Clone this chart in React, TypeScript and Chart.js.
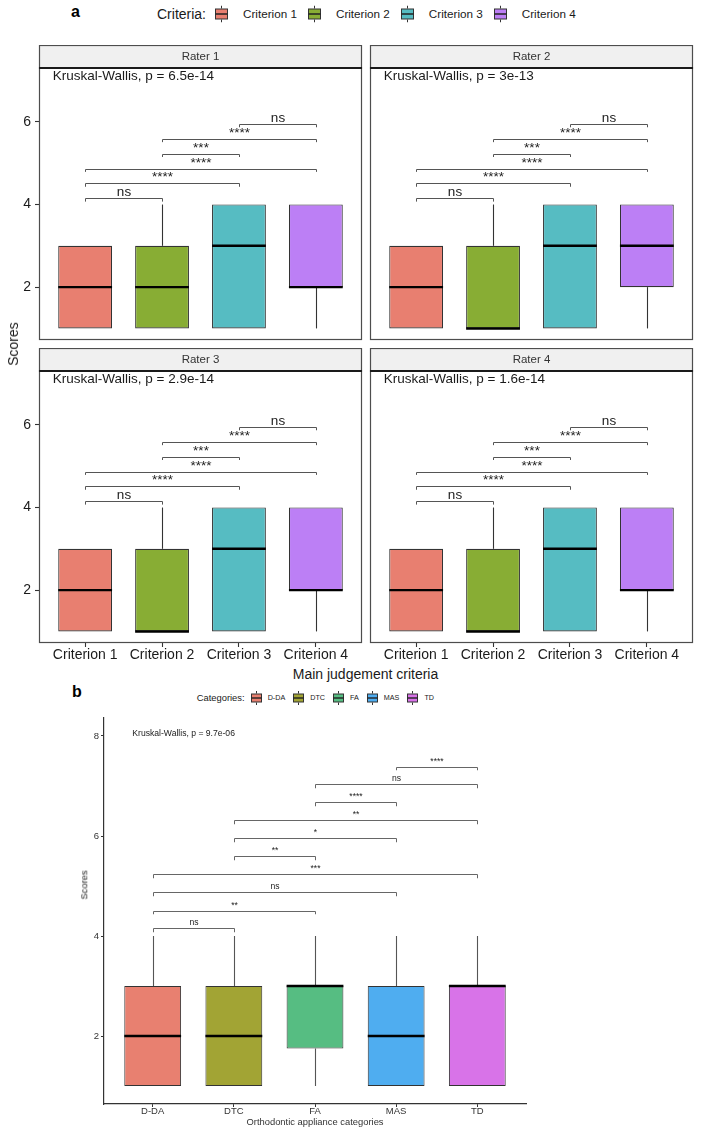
import React, { useEffect, useRef } from 'react';
import { Chart, registerables } from 'chart.js';

Chart.register(...registerables);

const FONT = "'Liberation Sans', Arial, Helvetica, sans-serif";
Chart.defaults.font.family = FONT;

// ---------- Panel a: four raters x four judgement criteria ----------
const criteria = ['Criterion 1', 'Criterion 2', 'Criterion 3', 'Criterion 4'];
const criteriaColors = ['#E87F70', '#88AD34', '#56BCC2', '#BC7FF5'];
const raters = ['Rater 1', 'Rater 2', 'Rater 3', 'Rater 4'];
const raterPValues = ['6.5e-14', '3e-13', '2.9e-14', '1.6e-14'];

// five-number summaries: one row per rater, one column per criterion
const raterLower = [[1, 1, 1, 1], [1, 1, 1, 1], [1, 1, 1, 1], [1, 1, 1, 1]];
const raterQ1 = [[1, 1, 1, 2], [1, 1, 1, 2], [1, 1, 1, 2], [1, 1, 1, 2]];
const raterMedian = [[2, 2, 3, 2], [2, 1, 3, 3], [2, 1, 3, 2], [2, 1, 3, 2]];
const raterQ3 = [[3, 3, 4, 4], [3, 3, 4, 4], [3, 3, 4, 4], [3, 3, 4, 4]];
const raterUpper = [[3, 4, 4, 4], [3, 4, 4, 4], [3, 4, 4, 4], [3, 4, 4, 4]];

// pairwise comparisons between criteria (same for every rater)
const criteriaPairFrom = [1, 1, 1, 2, 2, 3];
const criteriaPairTo = [2, 3, 4, 3, 4, 4];
const criteriaPairY = [4.15, 4.51, 4.87, 5.23, 5.59, 5.95];
const criteriaPairLabel = ['ns', '****', '****', '***', '****', 'ns'];
const scoreTicksA = [2, 4, 6];

// ---------- Panel b: orthodontic appliance categories ----------
const categories = ['D-DA', 'DTC', 'FA', 'MAS', 'TD'];
const categoryColors = ['#E88070', '#A2A434', '#56BD82', '#4FADF0', '#D873E8'];
const categoryLower = [1, 1, 1, 1, 1];
const categoryQ1 = [1, 1, 1.75, 1, 1];
const categoryMedian = [2, 2, 3, 2, 3];
const categoryQ3 = [3, 3, 3, 3, 3];
const categoryUpper = [4, 4, 4, 4, 4];
const categoryPairFrom = [1, 1, 1, 1, 2, 2, 2, 3, 3, 4];
const categoryPairTo = [2, 3, 4, 5, 3, 4, 5, 4, 5, 5];
const categoryPairY = [4.15, 4.51, 4.87, 5.23, 5.59, 5.95, 6.31, 6.67, 7.03, 7.39];
const categoryPairLabel = ['ns', '**', 'ns', '***', '**', '*', '**', '****', 'ns', '****'];
const categoryPValue = '9.7e-06';
const scoreTicksB = [2, 4, 6, 8];

type Extras = {
  lower: number[];
  q1: number[];
  median: number[];
  q3: number[];
  upper: number[];
  pairFrom: number[];
  pairTo: number[];
  pairY: number[];
  pairLabel: string[];
  tip: number;
  bracketColor: string;
  labelFont: string;
  labelGap: number;
  whiskerColor: string;
  note: string;
  noteX: number;
  noteY: number;
  noteFont: string;
  facet: boolean;
};

// Whiskers, medians, significance brackets, test note and facet frame
function boxExtras(e: Extras) {
  return {
    id: 'boxExtras',
    beforeDraw(chart: any) {
      if (!e.facet) return;
      const { ctx, chartArea: a } = chart;
      ctx.save();
      ctx.fillStyle = '#F0F0F0';
      ctx.fillRect(a.left, 0, a.right - a.left, a.top);
      ctx.restore();
    },
    afterDatasetsDraw(chart: any) {
      const { ctx } = chart;
      const x = chart.scales.x;
      const y = chart.scales.y;
      const bars = chart.getDatasetMeta(0).data;
      ctx.save();
      bars.forEach((bar: any, i: number) => {
        const cx = Math.round(bar.x) + 0.5;
        const half = bar.width / 2;
        ctx.strokeStyle = e.whiskerColor;
        ctx.lineWidth = 1.1;
        ctx.beginPath();
        ctx.moveTo(cx, y.getPixelForValue(e.q3[i]));
        ctx.lineTo(cx, y.getPixelForValue(e.upper[i]));
        ctx.moveTo(cx, y.getPixelForValue(e.q1[i]));
        ctx.lineTo(cx, y.getPixelForValue(e.lower[i]));
        ctx.stroke();
        ctx.strokeStyle = '#000';
        ctx.lineWidth = 2.4;
        const my = y.getPixelForValue(e.median[i]);
        ctx.beginPath();
        ctx.moveTo(bar.x - half, my);
        ctx.lineTo(bar.x + half, my);
        ctx.stroke();
      });

      ctx.strokeStyle = e.bracketColor;
      ctx.lineWidth = 1;
      ctx.fillStyle = '#222';
      ctx.font = e.labelFont;
      ctx.textAlign = 'center';
      ctx.textBaseline = 'alphabetic';
      e.pairY.forEach((v, k) => {
        const x1 = Math.round(x.getPixelForValue(e.pairFrom[k])) + 0.5;
        const x2 = Math.round(x.getPixelForValue(e.pairTo[k])) + 0.5;
        const yb = Math.round(y.getPixelForValue(v)) + 0.5;
        const yt = y.getPixelForValue(v - e.tip);
        ctx.beginPath();
        ctx.moveTo(x1, yt);
        ctx.lineTo(x1, yb);
        ctx.lineTo(x2, yb);
        ctx.lineTo(x2, yt);
        ctx.stroke();
        ctx.fillText(e.pairLabel[k], (x1 + x2) / 2, yb - e.labelGap);
      });

      ctx.font = e.noteFont;
      ctx.textAlign = 'left';
      ctx.textBaseline = 'middle';
      ctx.fillStyle = '#1a1a1a';
      ctx.fillText(e.note, x.getPixelForValue(e.noteX), y.getPixelForValue(e.noteY));
      ctx.restore();
    },
    afterDraw(chart: any) {
      if (!e.facet) return;
      const { ctx, chartArea: a } = chart;
      ctx.save();
      ctx.strokeStyle = '#4D4D4D';
      ctx.lineWidth = 1.2;
      ctx.strokeRect(a.left + 0.5, 0.5, a.right - a.left - 1, a.top - 0.5);
      ctx.strokeRect(a.left + 0.5, a.top, a.right - a.left - 1, a.bottom - a.top - 0.5);
      ctx.strokeStyle = '#1a1a1a';
      ctx.lineWidth = 2;
      ctx.beginPath();
      ctx.moveTo(a.left, a.top);
      ctx.lineTo(a.right, a.top);
      ctx.stroke();
      ctx.restore();
    },
  };
}

// keep tick-label overhang from shrinking the plotting area
const noOverhang = (s: any) => {
  s.paddingTop = 0;
  s.paddingBottom = 0;
  s.paddingLeft = 0;
  s.paddingRight = 0;
};

function facetConfig(r: number, isLeft: boolean, isBottom: boolean) {
  return {
    type: 'bar',
    data: {
      datasets: [
        {
          data: criteria.map((_, i) => ({ x: i + 1, y: [raterQ1[r][i], raterQ3[r][i]] })),
          backgroundColor: criteriaColors,
          borderColor: '#333333',
          borderWidth: 1.1,
          borderSkipped: false,
          barPercentage: 0.7,
          categoryPercentage: 1,
        },
      ],
    },
    options: {
      animation: false,
      responsive: false,
      events: [],
      layout: {
        autoPadding: false,
        padding: { left: isLeft ? 0 : 1, right: 1, top: 0, bottom: isBottom ? 0 : 1 },
      },
      plugins: {
        legend: { display: false },
        tooltip: { enabled: false },
        title: {
          display: true,
          text: raters[r],
          fullSize: false,
          color: '#333',
          font: { family: FONT, size: 11.5, weight: 'normal', lineHeight: 1.2 },
          padding: { top: 5, bottom: 4.2 },
        },
      },
      scales: {
        x: {
          type: 'linear',
          min: 0.4,
          max: 4.6,
          offset: false,
          display: isBottom,
          afterBuildTicks: (s: any) => {
            s.ticks = criteria.map((_, i) => ({ value: i + 1 }));
          },
          afterFit: (s: any) => {
            noOverhang(s);
            if (isBottom) s.height = 22;
          },
          ticks: {
            callback: (v: any) => criteria[Number(v) - 1],
            font: { family: FONT, size: 14 },
            color: '#1a1a1a',
            padding: 0,
            autoSkip: false,
            maxRotation: 0,
          },
          grid: {
            display: true,
            offset: false,
            drawOnChartArea: false,
            drawTicks: true,
            tickLength: 4,
            tickColor: '#333',
            tickWidth: 1.1,
          },
          border: { display: false },
        },
        y: {
          type: 'linear',
          min: 0.72,
          max: 7.305,
          display: isLeft,
          afterBuildTicks: (s: any) => {
            s.ticks = scoreTicksA.map((v) => ({ value: v }));
          },
          afterFit: (s: any) => {
            noOverhang(s);
            if (isLeft) s.width = 39;
          },
          ticks: { font: { family: FONT, size: 14 }, color: '#1a1a1a', padding: 4 },
          grid: {
            display: true,
            drawOnChartArea: false,
            drawTicks: true,
            tickLength: 4,
            tickColor: '#333',
            tickWidth: 1.1,
          },
          border: { display: false },
        },
      },
    },
    plugins: [
      boxExtras({
        lower: raterLower[r],
        q1: raterQ1[r],
        median: raterMedian[r],
        q3: raterQ3[r],
        upper: raterUpper[r],
        pairFrom: criteriaPairFrom,
        pairTo: criteriaPairTo,
        pairY: criteriaPairY,
        pairLabel: criteriaPairLabel,
        tip: 0.08,
        bracketColor: '#555',
        labelFont: `13.5px ${FONT}`,
        labelGap: 3,
        whiskerColor: '#333',
        note: `Kruskal-Wallis, p = ${raterPValues[r]}`,
        noteX: 0.58,
        noteY: 7.11,
        noteFont: `13.5px ${FONT}`,
        facet: true,
      }),
    ],
  };
}

function categoryConfig() {
  return {
    type: 'bar',
    data: {
      datasets: [
        {
          data: categories.map((_, i) => ({ x: i + 1, y: [categoryQ1[i], categoryQ3[i]] })),
          backgroundColor: categoryColors,
          borderColor: '#333333',
          borderWidth: 1,
          borderSkipped: false,
          barPercentage: 0.7,
          categoryPercentage: 1,
        },
      ],
    },
    options: {
      animation: false,
      responsive: false,
      events: [],
      layout: { autoPadding: false, padding: { left: 0, top: 13, right: 176, bottom: 0 } },
      plugins: { legend: { display: false }, tooltip: { enabled: false } },
      scales: {
        x: {
          type: 'linear',
          min: 0.4,
          max: 5.6,
          offset: false,
          afterBuildTicks: (s: any) => {
            s.ticks = categories.map((_, i) => ({ value: i + 1 }));
          },
          afterFit: (s: any) => {
            noOverhang(s);
            s.height = 31;
          },
          ticks: {
            callback: (v: any) => categories[Number(v) - 1],
            font: { family: FONT, size: 9.5, lineHeight: 1 },
            color: '#333',
            padding: 0,
            autoSkip: false,
            maxRotation: 0,
          },
          grid: {
            display: true,
            offset: false,
            drawOnChartArea: false,
            drawTicks: true,
            tickLength: 3,
            tickColor: '#333',
          },
          border: { display: true, color: '#333', width: 1.2 },
          title: {
            display: true,
            text: 'Orthodontic appliance categories',
            color: '#333',
            font: { family: FONT, size: 9.4, lineHeight: 1.2 },
            padding: { top: 0, bottom: 6.7 },
          },
        },
        y: {
          type: 'linear',
          min: 0.64,
          max: 8.36,
          afterBuildTicks: (s: any) => {
            s.ticks = scoreTicksB.map((v) => ({ value: v }));
          },
          afterFit: (s: any) => {
            noOverhang(s);
            s.width = 104;
          },
          ticks: { font: { family: FONT, size: 9.5 }, color: '#333', padding: 2 },
          grid: {
            display: true,
            drawOnChartArea: false,
            drawTicks: true,
            tickLength: 3,
            tickColor: '#333',
          },
          border: { display: true, color: '#333', width: 1.2 },
        },
      },
    },
    plugins: [
      boxExtras({
        lower: categoryLower,
        q1: categoryQ1,
        median: categoryMedian,
        q3: categoryQ3,
        upper: categoryUpper,
        pairFrom: categoryPairFrom,
        pairTo: categoryPairTo,
        pairY: categoryPairY,
        pairLabel: categoryPairLabel,
        tip: 0.075,
        bracketColor: '#666',
        labelFont: `8.6px ${FONT}`,
        labelGap: 3.5,
        whiskerColor: '#555',
        note: `Kruskal-Wallis, p = ${categoryPValue}`,
        noteX: 0.749,
        noteY: 8.05,
        noteFont: `8.6px ${FONT}`,
        facet: false,
      }),
    ],
  };
}

function ChartCanvas(props: { build: () => any; left: number; top: number; width: number; height: number }) {
  const ref = useRef<HTMLCanvasElement>(null);
  useEffect(() => {
    const chart = new Chart(ref.current as HTMLCanvasElement, props.build() as any);
    return () => chart.destroy();
  }, []);
  const { left, top, width, height } = props;
  return (
    <canvas
      ref={ref}
      width={width}
      height={height}
      style={{ position: 'absolute', left, top, width, height }}
    />
  );
}

function BoxKey(props: { color: string; w: number; h: number; stub: number }) {
  const { color, w, h, stub } = props;
  const bh = h - 2 * stub;
  return (
    <svg width={w} height={h} style={{ display: 'block' }}>
      <line x1={w / 2} y1={0} x2={w / 2} y2={stub} stroke="#333" strokeWidth={1} />
      <line x1={w / 2} y1={h - stub} x2={w / 2} y2={h} stroke="#333" strokeWidth={1} />
      <rect x={0.5} y={stub + 0.5} width={w - 1} height={bh - 1} fill={color} stroke="#333" strokeWidth={1} />
      <line x1={0.5} y1={h / 2} x2={w - 0.5} y2={h / 2} stroke="#222" strokeWidth={1.4} />
    </svg>
  );
}

function Legend(props: {
  title: string;
  labels: string[];
  colors: string[];
  left: number;
  centerY: number;
  titleSize: number;
  labelSize: number;
  titleGap: number;
  keyW: number;
  keyH: number;
  stub: number;
  keyGap: number;
  itemGap: number;
}) {
  const p = props;
  return (
    <div
      style={{
        position: 'absolute',
        left: p.left,
        top: p.centerY,
        transform: 'translateY(-50%)',
        display: 'flex',
        alignItems: 'center',
        whiteSpace: 'nowrap',
        lineHeight: 1,
        color: '#1a1a1a',
      }}
    >
      <span style={{ fontSize: p.titleSize, marginRight: p.titleGap }}>{p.title}</span>
      {p.labels.map((l, i) => (
        <React.Fragment key={l}>
          <span style={{ marginRight: p.keyGap }}>
            <BoxKey color={p.colors[i]} w={p.keyW} h={p.keyH} stub={p.stub} />
          </span>
          <span style={{ fontSize: p.labelSize, marginRight: p.itemGap }}>{l}</span>
        </React.Fragment>
      ))}
    </div>
  );
}

const centered = (x: number, y: number, size: number, rotate = false): React.CSSProperties => ({
  position: 'absolute',
  left: x,
  top: y,
  fontSize: size,
  lineHeight: 1,
  whiteSpace: 'nowrap',
  color: '#1a1a1a',
  transform: `translate(-50%, -50%)${rotate ? ' rotate(-90deg)' : ''}`,
});

export default function App() {
  return (
    <div
      style={{
        position: 'absolute',
        left: 0,
        top: 0,
        width: 702,
        height: 1135,
        background: '#fff',
        fontFamily: FONT,
        overflow: 'hidden',
      }}
    >
      <div style={{ position: 'absolute', left: 71, top: 3.8, fontSize: 16, fontWeight: 'bold', lineHeight: 1 }}>a</div>
      <Legend
        title="Criteria:"
        labels={criteria}
        colors={criteriaColors}
        left={157}
        centerY={13.8}
        titleSize={14}
        labelSize={11.7}
        titleGap={9}
        keyW={13}
        keyH={17}
        stub={3}
        keyGap={15}
        itemGap={11}
      />
      {raters.map((r, i) => {
        const isLeft = i % 2 === 0;
        const isBottom = i >= 2;
        return (
          <ChartCanvas
            key={r}
            build={() => facetConfig(i, isLeft, isBottom)}
            left={isLeft ? 0 : 369}
            top={isBottom ? 348 : 45}
            width={isLeft ? 363 : 325}
            height={isBottom ? 317 : 296}
          />
        );
      })}
      <div style={centered(13, 344, 14, true)}>Scores</div>
      <div style={centered(365.5, 673.5, 14)}>Main judgement criteria</div>

      <div style={{ position: 'absolute', left: 72, top: 683.5, fontSize: 16, fontWeight: 'bold', lineHeight: 1 }}>b</div>
      <Legend
        title="Categories:"
        labels={categories}
        colors={categoryColors}
        left={196.7}
        centerY={698}
        titleSize={9.4}
        labelSize={7.2}
        titleGap={6}
        keyW={11}
        keyH={14}
        stub={2.5}
        keyGap={6}
        itemGap={8}
      />
      <ChartCanvas build={categoryConfig} left={0} top={705} width={702} height={430} />
      <div style={{ ...centered(84, 885, 9.4, true), color: '#1a1a1a' }}>Scores</div>
    </div>
  );
}
